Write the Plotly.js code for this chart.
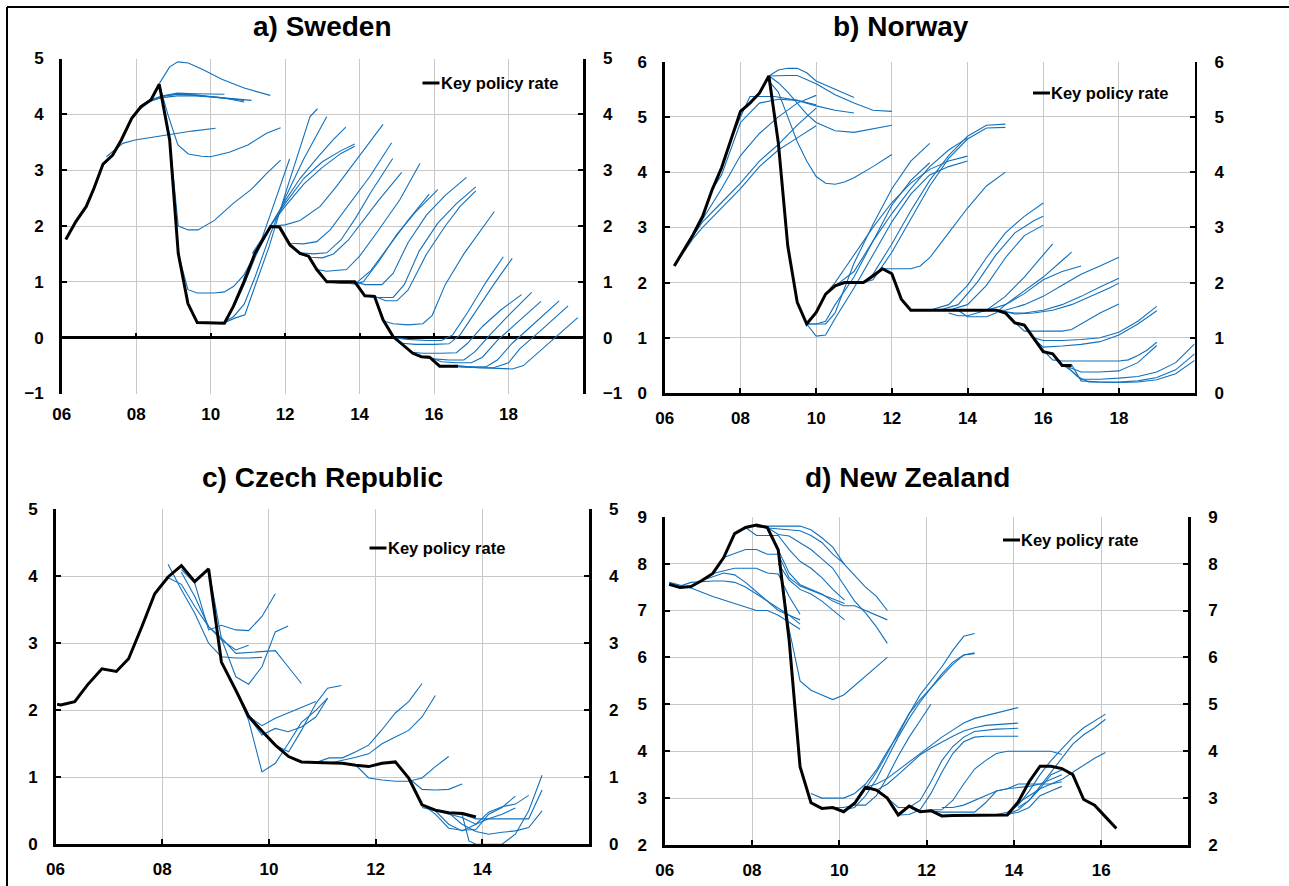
<!DOCTYPE html>
<html>
<head>
<meta charset="utf-8">
<script src="https://cdn.plot.ly/plotly-3.0.1.min.js"></script>
<style>
  html, body { margin: 0; padding: 0; background: #fff; }
  #chart { width: 1289px; height: 886px; }
</style>
</head>
<body>
<div id="chart"></div>
<script>
// ---------------- Policy rates and published forecast paths (per cent) ----------------

// Panel titles and tick labels
const panelTitles = ['a) Sweden', 'b) Norway', 'c) Czech Republic', 'd) New Zealand'];
const legendLabel = 'Key policy rate';
const yearTicksLong = [2006, 2008, 2010, 2012, 2014, 2016, 2018];
const yearTextLong = ['06', '08', '10', '12', '14', '16', '18'];
const yearTicksCz = [2006, 2008, 2010, 2012, 2014];
const yearTextCz = ['06', '08', '10', '12', '14'];
const yearTicksNz = [2006, 2008, 2010, 2012, 2014, 2016];
const yearTextNz = ['06', '08', '10', '12', '14', '16'];

// a) Sweden - repo rate
const seActX = [2006.11, 2006.38, 2006.66, 2006.87, 2007.11, 2007.37, 2007.6, 2007.88, 2008.13, 2008.4, 2008.62, 2008.9,
  2009.13, 2009.39, 2009.64, 2009.99, 2010.37, 2010.61, 2010.92, 2011.19, 2011.4, 2011.61, 2011.85, 2012.13, 2012.4,
  2012.63, 2012.85, 2013.12, 2013.87, 2014.14, 2014.4, 2014.63, 2014.9, 2015.17, 2015.43, 2015.66, 2015.88, 2016.15, 2016.64];
const seActY = [1.76, 2.08, 2.35, 2.68, 3.11, 3.27, 3.54, 3.93, 4.14, 4.26, 4.54, 3.54,
  1.51, 0.61, 0.27, 0.26, 0.26, 0.56, 1.04, 1.51, 1.75, 1.99, 1.98, 1.66, 1.51,
  1.46, 1.22, 1.0, 1.0, 0.75, 0.74, 0.32, 0.02, -0.13, -0.28, -0.34, -0.35, -0.51, -0.51];

// a) Sweden - forecast paths
const seFcX = [
  [2007.2, 2007.45, 2007.64, 2007.97, 2008.5, 2009.0, 2009.5, 2010.13],
  [2007.62, 2007.88, 2008.12, 2008.4, 2008.7, 2009.1, 2009.6, 2010.37],
  [2007.88, 2008.12, 2008.4, 2008.7, 2009.1, 2009.6, 2010.2, 2010.9],
  [2008.12, 2008.4, 2008.7, 2009.1, 2009.6, 2010.3, 2010.9],
  [2008.12, 2008.4, 2008.7, 2009.1, 2009.6, 2010.2, 2011.1],
  [2008.62, 2008.9, 2009.12, 2009.4, 2009.8, 2010.3, 2010.9, 2011.6],
  [2008.62, 2008.85, 2009.12, 2009.4, 2009.75, 2010.0, 2010.5, 2011.0, 2011.5, 2011.88],
  [2008.9, 2009.13, 2009.4, 2009.66, 2010.1, 2010.6, 2011.1, 2011.5, 2011.88],
  [2009.13, 2009.39, 2009.64, 2010.1, 2010.37, 2010.62, 2010.9, 2011.3, 2011.6, 2012.12],
  [2009.87, 2010.37, 2010.65, 2010.92, 2011.19, 2011.57, 2012.01, 2012.39, 2012.67, 2012.87],
  [2010.12, 2010.37, 2010.62, 2010.9, 2011.2, 2011.6, 2012.0, 2012.5, 2013.12],
  [2010.63, 2010.9, 2011.2, 2011.6, 2012.0, 2012.4, 2012.9, 2013.3, 2013.63],
  [2010.88, 2011.2, 2011.6, 2012.0, 2012.5, 2013.0, 2013.5, 2013.87],
  [2011.12, 2011.4, 2011.7, 2012.0, 2012.5, 2013.0, 2013.5, 2013.87],
  [2011.62, 2012.0, 2012.4, 2012.94, 2013.38, 2013.92, 2014.28, 2014.63],
  [2011.88, 2012.13, 2012.49, 2012.85, 2013.21, 2013.75, 2014.28, 2014.86],
  [2012.13, 2012.4, 2012.76, 2013.12, 2013.5, 2013.9, 2014.3, 2014.89],
  [2012.38, 2012.7, 2013.0, 2013.3, 2013.7, 2014.1, 2014.5, 2015.13],
  [2012.85, 2013.12, 2013.65, 2014.0, 2014.45, 2015.08, 2015.62],
  [2013.12, 2013.5, 2013.9, 2014.3, 2014.8, 2015.3, 2015.87],
  [2013.37, 2013.9, 2014.1, 2014.5, 2015.0, 2015.5, 2016.1],
  [2013.87, 2014.14, 2014.6, 2014.9, 2015.3, 2015.8, 2016.3, 2016.87],
  [2014.14, 2014.4, 2014.9, 2015.2, 2015.6, 2016.1, 2016.6, 2017.12],
  [2014.4, 2014.7, 2015.0, 2015.3, 2015.8, 2016.3, 2016.7, 2017.12],
  [2014.63, 2014.9, 2015.3, 2015.7, 2015.95, 2016.3, 2016.8, 2017.62],
  [2014.9, 2015.3, 2015.8, 2016.2, 2016.5, 2016.9, 2017.4, 2017.86],
  [2015.13, 2015.5, 2016.0, 2016.4, 2016.7, 2017.1, 2017.6, 2018.1],
  [2015.4, 2015.7, 2016.2, 2016.6, 2016.9, 2017.3, 2017.8, 2018.35],
  [2015.65, 2016.0, 2016.4, 2016.8, 2017.1, 2017.5, 2018.0, 2018.62],
  [2015.88, 2016.2, 2016.6, 2017.0, 2017.3, 2017.7, 2018.2, 2018.87],
  [2016.15, 2016.6, 2017.0, 2017.4, 2017.7, 2018.1, 2018.6, 2019.36],
  [2016.4, 2016.8, 2017.2, 2017.6, 2018.0, 2018.3, 2018.9, 2019.6],
  [2016.63, 2017.2, 2017.7, 2018.1, 2018.4, 2018.9, 2019.4, 2019.86]
];
const seFcY = [
  [3.24, 3.38, 3.48, 3.54, 3.6, 3.65, 3.7, 3.75],
  [3.55, 3.92, 4.1, 4.25, 4.33, 4.38, 4.37, 4.36],
  [3.93, 4.12, 4.24, 4.32, 4.36, 4.35, 4.3, 4.25],
  [4.14, 4.24, 4.3, 4.33, 4.33, 4.3, 4.22],
  [4.14, 4.26, 4.33, 4.36, 4.34, 4.3, 4.25],
  [4.55, 4.85, 4.94, 4.92, 4.8, 4.63, 4.47, 4.34],
  [4.54, 4.0, 3.45, 3.29, 3.25, 3.24, 3.32, 3.45, 3.66, 3.76],
  [3.54, 2.0, 1.93, 1.93, 2.1, 2.4, 2.66, 2.94, 3.18],
  [1.51, 0.86, 0.8, 0.8, 0.82, 0.92, 1.13, 1.63, 2.2, 3.2],
  [0.26, 0.27, 0.35, 0.41, 0.92, 1.63, 2.59, 3.36, 3.96, 4.1],
  [0.26, 0.28, 0.38, 0.6, 1.1, 1.85, 2.5, 3.2, 3.96],
  [0.56, 0.95, 1.45, 2.0, 2.45, 2.85, 3.25, 3.55, 3.77],
  [1.04, 1.5, 2.0, 2.35, 2.75, 3.05, 3.3, 3.43],
  [1.51, 1.8, 2.1, 2.4, 2.85, 3.15, 3.35, 3.47],
  [2.0, 2.02, 2.1, 2.35, 2.71, 3.19, 3.49, 3.82],
  [1.98, 1.69, 1.68, 1.72, 1.93, 2.41, 2.89, 3.49],
  [1.66, 1.52, 1.5, 1.52, 1.75, 2.15, 2.6, 3.21],
  [1.5, 1.44, 1.43, 1.5, 1.75, 2.1, 2.45, 2.96],
  [1.22, 1.19, 1.22, 1.46, 1.87, 2.47, 3.12],
  [1.0, 0.97, 0.97, 1.2, 1.65, 2.1, 2.57],
  [1.0, 0.96, 1.0, 1.35, 1.85, 2.25, 2.65],
  [1.0, 0.95, 0.95, 1.15, 1.7, 2.2, 2.55, 2.87],
  [0.75, 0.72, 0.72, 0.95, 1.55, 2.05, 2.4, 2.7],
  [0.74, 0.66, 0.66, 0.85, 1.5, 2.0, 2.35, 2.63],
  [0.3, 0.25, 0.23, 0.25, 0.4, 0.95, 1.5, 2.26],
  [0.0, -0.03, -0.05, -0.05, 0.05, 0.45, 1.0, 1.45],
  [-0.1, -0.12, -0.12, -0.11, 0.05, 0.45, 0.95, 1.42],
  [-0.26, -0.28, -0.28, -0.27, -0.1, 0.2, 0.5, 0.77],
  [-0.35, -0.38, -0.4, -0.4, -0.25, 0.05, 0.4, 0.81],
  [-0.35, -0.43, -0.45, -0.45, -0.35, -0.05, 0.25, 0.65],
  [-0.5, -0.52, -0.52, -0.52, -0.4, -0.1, 0.2, 0.66],
  [-0.5, -0.53, -0.54, -0.54, -0.45, -0.2, 0.15, 0.57],
  [-0.5, -0.54, -0.55, -0.56, -0.5, -0.2, 0.1, 0.36]
];

// b) Norway - key policy rate
const noActX = [2006.25, 2006.5, 2006.75, 2007.0, 2007.25, 2007.5, 2007.75, 2008.0, 2008.25, 2008.5, 2008.75, 2009.0,
  2009.25, 2009.5, 2009.75, 2010.0, 2010.25, 2010.5, 2010.75, 2011.0, 2011.25, 2011.5, 2011.75, 2012.0, 2012.25,
  2012.5, 2012.75, 2013.0, 2013.25, 2013.5, 2013.75, 2014.0, 2014.25, 2014.5, 2014.75, 2015.0, 2015.25, 2015.5,
  2015.75, 2016.0, 2016.25, 2016.5, 2016.75];
const noActY = [2.3, 2.58, 2.87, 3.2, 3.68, 4.08, 4.59, 5.1, 5.25, 5.43, 5.74, 4.53,
  2.66, 1.64, 1.25, 1.46, 1.79, 1.94, 2.0, 2.0, 2.0, 2.12, 2.25, 2.16, 1.7,
  1.5, 1.5, 1.5, 1.5, 1.5, 1.5, 1.5, 1.5, 1.5, 1.5, 1.45, 1.27, 1.23,
  0.98, 0.75, 0.71, 0.5, 0.5];

// b) Norway - forecast paths
const noFcX = [
  [2006.35, 2006.75, 2007.0, 2007.5, 2008.0, 2008.5, 2009.0, 2009.5, 2010.0],
  [2006.5, 2006.75, 2007.0, 2007.5, 2008.0, 2008.5, 2009.0, 2009.5, 2010.0],
  [2006.75, 2007.0, 2007.5, 2008.0, 2008.5, 2009.0, 2009.5, 2010.0],
  [2007.25, 2007.5, 2008.0, 2008.5, 2009.0, 2009.5, 2010.0, 2010.5, 2011.0],
  [2007.75, 2008.0, 2008.25, 2008.5, 2008.9, 2009.5, 2010.0],
  [2008.75, 2009.0, 2009.25, 2009.5, 2009.75, 2010.0, 2010.5, 2011.0, 2011.5, 2012.0],
  [2008.75, 2009.0, 2009.25, 2009.5, 2009.75, 2010.0, 2010.5, 2011.0],
  [2008.75, 2009.0, 2009.25, 2009.5, 2009.75, 2010.0, 2010.5, 2011.0, 2011.5, 2012.0],
  [2008.75, 2009.0, 2009.25, 2009.5, 2009.75, 2010.0, 2010.25, 2010.5, 2010.75, 2011.0, 2011.5, 2012.0],
  [2009.75, 2010.25, 2010.5, 2010.75, 2011.0, 2011.5, 2012.0, 2012.5, 2013.0],
  [2009.75, 2010.0, 2010.25, 2010.5, 2011.0, 2011.5, 2012.0, 2012.5, 2013.0],
  [2009.75, 2010.0, 2010.25, 2010.5, 2011.0, 2011.5, 2012.0, 2012.5, 2013.0, 2013.5, 2014.0],
  [2010.25, 2010.5, 2010.75, 2011.0, 2011.5, 2012.0, 2012.5, 2013.0, 2013.5, 2014.0],
  [2010.5, 2011.0, 2011.5, 2012.0, 2012.5, 2013.0, 2013.5, 2014.0],
  [2011.25, 2011.5, 2012.0, 2012.5, 2013.0, 2013.5, 2014.0, 2014.5, 2015.0],
  [2011.25, 2011.5, 2012.0, 2012.5, 2013.0, 2013.5, 2014.0, 2014.5, 2015.0],
  [2011.75, 2012.0, 2012.5, 2012.75, 2013.0, 2013.5, 2014.0, 2014.5, 2015.0],
  [2013.0, 2013.5, 2014.0, 2014.5, 2015.0, 2015.5, 2016.0],
  [2013.25, 2013.75, 2014.25, 2014.75, 2015.25, 2015.75, 2016.0],
  [2013.5, 2014.0, 2014.5, 2015.0, 2015.5, 2016.0],
  [2013.5, 2013.75, 2014.0, 2014.5, 2015.0, 2015.5, 2016.0, 2016.25],
  [2013.75, 2014.0, 2014.5, 2014.75, 2015.0, 2015.5, 2016.0, 2016.5, 2016.75],
  [2014.25, 2014.5, 2014.75, 2015.0, 2015.5, 2016.0, 2016.5, 2017.0],
  [2014.75, 2015.0, 2015.5, 2016.0, 2016.5, 2017.0, 2017.5, 2018.0],
  [2015.0, 2015.25, 2015.5, 2016.0, 2016.5, 2017.0, 2017.5, 2018.0],
  [2015.0, 2015.25, 2015.75, 2016.25, 2016.75, 2017.25, 2017.75, 2018.0],
  [2015.25, 2015.5, 2016.0, 2016.5, 2016.75, 2017.0, 2017.5, 2018.0],
  [2015.5, 2015.75, 2016.0, 2016.5, 2017.0, 2017.5, 2018.0, 2018.5, 2019.0],
  [2015.75, 2016.0, 2016.5, 2017.0, 2017.5, 2018.0, 2018.5, 2019.0],
  [2016.0, 2016.25, 2016.5, 2017.0, 2017.5, 2018.0, 2018.25, 2018.5, 2018.75, 2019.0],
  [2016.25, 2016.5, 2016.75, 2017.0, 2017.5, 2018.0, 2018.5, 2019.0],
  [2016.5, 2016.75, 2017.0, 2017.5, 2018.0, 2018.5, 2019.0, 2019.5, 2020.0],
  [2016.75, 2017.0, 2017.5, 2018.0, 2018.5, 2019.0, 2019.5, 2020.0],
  [2016.6, 2016.9, 2017.2, 2017.6, 2018.0, 2018.5, 2019.0, 2019.5, 2020.0]
];
const noFcY = [
  [2.4, 2.8, 3.0, 3.35, 3.7, 4.1, 4.4, 4.62, 4.84],
  [2.6, 2.85, 3.1, 3.45, 3.8, 4.2, 4.5, 4.85, 5.16],
  [2.87, 3.15, 3.7, 4.3, 4.7, 5.0, 5.25, 5.39],
  [3.68, 3.95, 4.9, 5.25, 5.32, 5.3, 5.2, 5.12, 5.07],
  [4.59, 5.0, 5.37, 5.37, 5.37, 5.3, 5.22],
  [5.74, 5.75, 5.75, 5.75, 5.68, 5.6, 5.4, 5.25, 5.12, 5.1],
  [5.74, 5.85, 5.88, 5.88, 5.8, 5.65, 5.5, 5.35],
  [5.74, 5.62, 5.45, 5.25, 5.05, 4.9, 4.75, 4.72, 4.78, 4.85],
  [5.65, 5.45, 5.0, 4.55, 4.2, 3.92, 3.8, 3.78, 3.82, 3.9, 4.1, 4.32],
  [1.25, 1.25, 1.45, 1.9, 2.35, 3.05, 3.7, 4.2, 4.52],
  [1.25, 1.25, 1.3, 1.6, 2.1, 2.75, 3.4, 3.85, 4.17],
  [1.25, 1.03, 1.05, 1.35, 1.9, 2.5, 3.1, 3.6, 3.95, 4.1, 4.2],
  [1.79, 2.0, 2.25, 2.5, 3.0, 3.45, 3.8, 4.05, 4.2, 4.29],
  [1.94, 2.2, 2.75, 3.25, 3.7, 4.1, 4.4, 4.62],
  [2.0, 2.15, 2.7, 3.3, 3.85, 4.3, 4.65, 4.85, 4.87],
  [2.0, 2.05, 2.55, 3.15, 3.75, 4.25, 4.6, 4.8, 4.81],
  [2.25, 2.25, 2.25, 2.3, 2.45, 2.9, 3.35, 3.75, 4.0],
  [1.5, 1.6, 1.95, 2.45, 2.9, 3.2, 3.44],
  [1.5, 1.6, 2.0, 2.5, 2.9, 3.12, 3.2],
  [1.5, 1.6, 1.95, 2.45, 2.85, 3.04],
  [1.45, 1.4, 1.4, 1.5, 1.75, 2.1, 2.5, 2.7],
  [1.5, 1.38, 1.38, 1.45, 1.6, 1.85, 2.1, 2.4, 2.55],
  [1.5, 1.5, 1.55, 1.6, 1.8, 2.05, 2.2, 2.3],
  [1.5, 1.5, 1.6, 1.75, 1.95, 2.15, 2.3, 2.46],
  [1.47, 1.45, 1.45, 1.5, 1.6, 1.75, 1.92, 2.08],
  [1.47, 1.43, 1.45, 1.5, 1.6, 1.75, 1.9, 1.99],
  [1.28, 1.12, 1.12, 1.12, 1.15, 1.25, 1.45, 1.61],
  [1.23, 1.0, 0.95, 0.95, 0.97, 1.0, 1.1, 1.3, 1.57],
  [0.98, 0.83, 0.85, 0.88, 0.93, 1.05, 1.25, 1.49],
  [0.77, 0.6, 0.58, 0.58, 0.58, 0.58, 0.6, 0.68, 0.78, 0.92],
  [0.72, 0.5, 0.45, 0.38, 0.38, 0.4, 0.55, 0.86],
  [0.51, 0.4, 0.25, 0.25, 0.27, 0.3, 0.38, 0.55, 0.89],
  [0.51, 0.22, 0.2, 0.2, 0.22, 0.28, 0.42, 0.71],
  [0.5, 0.3, 0.2, 0.19, 0.19, 0.2, 0.24, 0.35, 0.59]
];

// c) Czech Republic - 2W repo rate
const czActX = [2006.03, 2006.1, 2006.36, 2006.6, 2006.87, 2007.14, 2007.37, 2007.62, 2007.86, 2008.11, 2008.36, 2008.61,
  2008.87, 2009.11, 2009.38, 2009.62, 2009.87, 2010.12, 2010.37, 2010.61, 2010.88, 2011.13, 2011.38, 2011.63,
  2011.87, 2012.12, 2012.37, 2012.62, 2012.87, 2013.12, 2013.37, 2013.63, 2013.88];
const czActY = [2.09, 2.08, 2.13, 2.38, 2.62, 2.58, 2.77, 3.25, 3.74, 3.99, 4.16, 3.92,
  4.11, 2.72, 2.3, 1.91, 1.69, 1.48, 1.31, 1.23, 1.22, 1.21, 1.21, 1.18,
  1.16, 1.21, 1.23, 0.99, 0.59, 0.51, 0.47, 0.46, 0.41];

// c) Czech Republic - forecast paths
const czFcX = [
  [2008.11, 2008.36, 2008.61, 2008.87, 2009.11, 2009.38, 2009.62, 2009.87],
  [2008.11, 2008.36, 2008.61, 2008.87, 2009.11, 2009.38, 2009.62],
  [2008.36, 2008.61, 2008.87, 2009.11, 2009.38, 2009.62, 2009.87, 2010.12, 2010.36, 2010.61],
  [2008.36, 2008.61, 2008.87, 2009.11, 2009.38, 2009.62, 2009.87, 2010.12],
  [2008.87, 2009.11, 2009.38, 2009.62, 2009.87, 2010.12, 2010.36],
  [2009.38, 2009.62, 2009.87, 2010.12, 2010.36, 2010.61, 2010.88, 2011.1],
  [2009.38, 2009.62, 2009.87, 2010.12, 2010.36, 2010.61, 2010.88, 2011.1],
  [2009.62, 2009.87, 2010.12, 2010.36, 2010.61, 2010.88],
  [2010.12, 2010.37, 2010.61, 2010.88, 2011.1, 2011.36],
  [2010.88, 2011.13, 2011.38, 2011.63, 2011.87, 2012.12, 2012.37, 2012.62, 2012.87],
  [2011.13, 2011.38, 2011.63, 2011.87, 2012.12, 2012.37, 2012.62, 2012.87, 2013.12],
  [2011.63, 2011.87, 2012.12, 2012.37, 2012.62, 2012.87, 2013.12, 2013.37],
  [2012.62, 2012.87, 2013.12, 2013.37, 2013.62],
  [2012.87, 2013.12, 2013.37, 2013.62, 2013.88, 2014.12, 2014.37, 2014.62],
  [2012.87, 2013.12, 2013.37, 2013.62, 2013.88, 2014.12, 2014.37, 2014.62, 2014.87],
  [2013.12, 2013.37, 2013.62, 2013.88, 2014.12, 2014.37, 2014.62],
  [2013.37, 2013.62, 2013.88, 2014.12, 2014.37, 2014.62, 2014.87, 2015.12],
  [2013.62, 2013.88, 2014.12, 2014.37, 2014.62, 2014.87, 2015.12],
  [2013.62, 2013.75, 2013.88, 2014.12, 2014.37, 2014.62, 2014.87, 2015.12]
];
const czFcY = [
  [4.18, 3.8, 3.45, 3.0, 2.8, 2.78, 2.78, 2.79],
  [3.98, 3.88, 3.55, 3.25, 3.05, 2.9, 2.97],
  [4.06, 3.7, 3.25, 3.08, 2.85, 2.86, 2.87, 2.89, 2.65, 2.4],
  [4.1, 3.9, 3.2, 3.27, 3.2, 3.19, 3.4, 3.74],
  [4.11, 3.07, 2.5, 2.39, 2.65, 3.17, 3.26],
  [2.3, 1.85, 1.08, 1.21, 1.5, 1.82, 2.0, 2.18],
  [2.3, 1.9, 1.63, 1.73, 1.68, 1.75, 1.9, 2.18],
  [1.91, 1.77, 1.88, 1.96, 2.05, 2.13],
  [1.48, 1.38, 1.7, 2.1, 2.33, 2.37],
  [1.22, 1.29, 1.29, 1.38, 1.48, 1.71, 1.96, 2.13, 2.4],
  [1.21, 1.25, 1.3, 1.35, 1.5, 1.6, 1.7, 1.9, 2.22],
  [1.18, 0.99, 0.96, 0.94, 0.94, 0.99, 1.16, 1.31],
  [0.99, 0.82, 0.81, 0.82, 0.9],
  [0.6, 0.45, 0.24, 0.21, 0.22, 0.45, 0.55, 0.72],
  [0.55, 0.5, 0.3, 0.2, 0.3, 0.48, 0.56, 0.6, 0.73],
  [0.5, 0.45, 0.4, 0.3, 0.38, 0.45, 0.54],
  [0.47, 0.3, 0.19, 0.15, 0.18, 0.2, 0.25, 0.5],
  [0.45, 0.38, 0.38, 0.38, 0.38, 0.38, 0.81],
  [0.45, 0.05, 0.0, 0.0, 0.0, 0.15, 0.5, 1.03]
];

// d) New Zealand - official cash rate
const nzActX = [2006.1, 2006.35, 2006.6, 2006.85, 2007.1, 2007.35, 2007.6, 2007.85, 2008.1, 2008.35, 2008.6, 2008.85,
  2009.1, 2009.35, 2009.6, 2009.85, 2010.1, 2010.35, 2010.6, 2010.85, 2011.1, 2011.35, 2011.6, 2011.85,
  2012.1, 2012.35, 2012.6, 2012.85, 2013.1, 2013.35, 2013.6, 2013.85, 2014.1, 2014.35, 2014.6, 2014.85,
  2015.1, 2015.35, 2015.6, 2015.85, 2016.1, 2016.35];
const nzActY = [7.56, 7.49, 7.51, 7.64, 7.79, 8.13, 8.64, 8.77, 8.82, 8.77, 8.29, 6.37,
  3.67, 2.9, 2.78, 2.8, 2.71, 2.89, 3.23, 3.17, 3.0, 2.64, 2.83, 2.71,
  2.73, 2.62, 2.63, 2.63, 2.63, 2.63, 2.63, 2.64, 2.92, 3.35, 3.68, 3.68,
  3.63, 3.5, 2.97, 2.85, 2.6, 2.35];

// d) New Zealand - forecast paths
const nzFcX = [
  [2006.1, 2006.6, 2007.1, 2007.6, 2008.1, 2008.35, 2008.6, 2008.85, 2009.1],
  [2006.35, 2006.6, 2007.1, 2007.35, 2007.6, 2007.85, 2008.1, 2008.35, 2008.6, 2008.85, 2009.1],
  [2006.85, 2007.1, 2007.35, 2007.6, 2007.85, 2008.1, 2008.35, 2008.6, 2008.85, 2009.1],
  [2007.1, 2007.35, 2007.6, 2007.85, 2008.1, 2008.35, 2008.6, 2008.85, 2009.1],
  [2007.35, 2007.6, 2007.85, 2008.1, 2008.35, 2008.6, 2008.85, 2009.1, 2009.35, 2009.6, 2009.85, 2010.12],
  [2008.1, 2008.35, 2008.6, 2008.85, 2009.1, 2009.35, 2009.6, 2009.85, 2010.1, 2010.35, 2010.6, 2010.85, 2011.1],
  [2008.1, 2008.35, 2008.6, 2008.85, 2009.1, 2009.35, 2009.6, 2009.85, 2010.12],
  [2008.35, 2008.6, 2008.85, 2009.1, 2009.35, 2009.6, 2009.85, 2010.1, 2010.35, 2010.6, 2010.85, 2011.1],
  [2007.85, 2008.1, 2008.35, 2008.6, 2008.85, 2009.1, 2009.35, 2009.6, 2009.85, 2010.12],
  [2008.6, 2008.85, 2009.1, 2009.35, 2009.6, 2009.85, 2010.1, 2010.35, 2010.6, 2010.85, 2011.1],
  [2008.6, 2008.85, 2009.1, 2009.35, 2009.6, 2009.85, 2010.12],
  [2008.6, 2008.85, 2009.1, 2009.35, 2009.6, 2009.85, 2010.1, 2010.35, 2010.6, 2010.85, 2011.1],
  [2009.35, 2009.6, 2009.85, 2010.1, 2010.35, 2010.6, 2010.85, 2011.1, 2011.35, 2011.6, 2011.85, 2012.1, 2012.35, 2012.6, 2012.85, 2013.1],
  [2009.85, 2010.1, 2010.35, 2010.6, 2010.85, 2011.1, 2011.35, 2011.6, 2011.85, 2012.1, 2012.35, 2012.6, 2012.85, 2013.1],
  [2010.1, 2010.35, 2010.6, 2010.85, 2011.1, 2011.35, 2011.6, 2011.85, 2012.1, 2012.35, 2012.6, 2012.85, 2013.1],
  [2010.35, 2010.6, 2010.85, 2011.1, 2011.35, 2011.6, 2011.85, 2012.1],
  [2010.6, 2010.85, 2011.1, 2011.35, 2011.6, 2011.85, 2012.1, 2012.35, 2012.6, 2012.85, 2013.1, 2013.35, 2013.6, 2013.85, 2014.1],
  [2010.85, 2011.1, 2011.35, 2011.6, 2011.85, 2012.1, 2012.35, 2012.6, 2012.85, 2013.1, 2013.35, 2013.6, 2013.85, 2014.1],
  [2011.1, 2011.35, 2011.6, 2011.85, 2012.1, 2012.35, 2012.6, 2012.85, 2013.1, 2013.35, 2013.6, 2013.85, 2014.1],
  [2011.35, 2011.6, 2011.85, 2012.1, 2012.35, 2012.6, 2012.85, 2013.1, 2013.35, 2013.6, 2013.85, 2014.1],
  [2011.85, 2012.1, 2012.35, 2012.6, 2012.85, 2013.1, 2013.35, 2013.6, 2013.85, 2014.1, 2014.35, 2014.6, 2014.85, 2015.1],
  [2012.1, 2012.35, 2012.6, 2012.85, 2013.1, 2013.35, 2013.6, 2013.85, 2014.1, 2014.35, 2014.6, 2014.85, 2015.1],
  [2012.35, 2012.6, 2012.85, 2013.1, 2013.35, 2013.6, 2013.85, 2014.1, 2014.35, 2014.6, 2014.85, 2015.1],
  [2013.6, 2013.85, 2014.1, 2014.35, 2014.6, 2014.85, 2015.1, 2015.35, 2015.6, 2015.85, 2016.1],
  [2013.85, 2014.1, 2014.35, 2014.6, 2014.85, 2015.1, 2015.35, 2015.6, 2015.85, 2016.1],
  [2014.1, 2014.35, 2014.6, 2014.85, 2015.1, 2015.35, 2015.6, 2015.85, 2016.1],
  [2013.85, 2014.1, 2014.35, 2014.6, 2014.85, 2015.1],
  [2014.1, 2014.35, 2014.6, 2014.85, 2015.1]
];
const nzFcY = [
  [7.6, 7.48, 7.3, 7.15, 7.0, 7.0, 6.9, 6.75, 6.6],
  [7.52, 7.6, 7.63, 7.63, 7.6, 7.5, 7.35, 7.2, 7.05, 6.9, 6.71],
  [7.64, 7.72, 7.8, 7.76, 7.6, 7.4, 7.2, 7.0, 6.9, 6.8],
  [7.79, 7.85, 7.9, 7.9, 7.9, 7.8, 7.78, 7.3, 6.92],
  [8.13, 8.22, 8.3, 8.3, 8.2, 8.2, 7.7, 7.52, 7.43, 7.35, 7.25, 7.15],
  [8.8, 8.8, 8.8, 8.8, 8.8, 8.72, 8.55, 8.35, 8.0, 7.75, 7.5, 7.3, 7.0],
  [8.78, 8.76, 8.75, 8.73, 8.7, 8.6, 8.45, 8.2, 7.99],
  [8.77, 8.62, 8.59, 8.45, 8.3, 8.1, 7.9, 7.55, 7.2, 6.95, 6.65, 6.3],
  [8.77, 8.6, 8.6, 8.6, 8.3, 8.05, 7.9, 7.7, 7.45, 7.22],
  [8.29, 7.8, 7.55, 7.45, 7.35, 7.2, 7.1, 7.1, 7.0, 6.9, 6.8],
  [8.0, 7.65, 7.45, 7.35, 7.2, 7.0, 6.8],
  [8.29, 6.6, 5.5, 5.3, 5.2, 5.1, 5.2, 5.4, 5.6, 5.8, 6.0],
  [3.1, 3.0, 3.0, 3.0, 3.1, 3.3, 3.6, 4.0, 4.35, 4.8, 5.2, 5.5, 5.8, 6.15, 6.45, 6.51],
  [2.8, 2.8, 2.85, 3.2, 3.55, 3.95, 4.4, 4.8, 5.1, 5.35, 5.6, 5.85, 6.05, 6.1],
  [2.75, 2.8, 3.05, 3.4, 3.85, 4.3, 4.7, 5.05, 5.35, 5.65, 5.9, 6.05, 6.08],
  [2.85, 2.85, 3.05, 3.45, 3.9, 4.3, 4.65, 5.0],
  [3.23, 3.3, 3.42, 3.6, 3.78, 3.96, 4.13, 4.3, 4.45, 4.6, 4.7, 4.76, 4.82, 4.87, 4.93],
  [3.17, 3.3, 3.5, 3.72, 3.92, 4.07, 4.2, 4.32, 4.43, 4.5, 4.55, 4.57, 4.58, 4.6],
  [3.0, 2.8, 2.8, 2.95, 3.35, 3.8, 4.1, 4.3, 4.42, 4.45, 4.47, 4.48, 4.49],
  [2.64, 2.65, 2.75, 3.1, 3.55, 3.95, 4.2, 4.3, 4.32, 4.32, 4.32, 4.32],
  [2.71, 2.75, 2.75, 2.95, 3.3, 3.62, 3.8, 3.95, 4.0, 4.0, 4.0, 4.0, 4.0, 3.93],
  [2.73, 2.7, 2.7, 2.7, 2.7, 2.9, 3.15, 3.2, 3.3, 3.3, 3.3, 3.3, 3.35],
  [2.8, 2.8, 2.85, 2.95, 3.05, 3.15, 3.2, 3.22, 3.25, 3.3, 3.4, 3.5],
  [2.65, 2.7, 2.85, 3.15, 3.5, 3.8, 4.05, 4.3, 4.5, 4.65, 4.79],
  [2.65, 2.75, 2.95, 3.25, 3.55, 3.85, 4.15, 4.35, 4.5, 4.68],
  [2.9, 3.05, 3.2, 3.3, 3.4, 3.55, 3.7, 3.85, 3.97],
  [2.65, 2.7, 2.8, 3.05, 3.15, 3.25],
  [2.8, 2.95, 3.2, 3.5, 3.6]
];

// ---------------- Figure construction ----------------
const W = 1289, H = 886;
const FONT = 'Liberation Sans, Arial, Helvetica, sans-serif';
const BLUE = '#1271bd';
const GRID = '#c8c8c8';
const tickFont = { family: FONT, size: 17, color: '#000', weight: 'bold' };
const px = v => v / W;            // pixel column -> paper x
const py = v => 1 - v / H;        // pixel row -> paper y

// Plot-area boxes in pixels: [left, right, top, bottom]
const boxes = [
  [61.7, 583, 58.5, 393.5],
  [664.8, 1194.6, 61.7, 393],
  [55.5, 589, 509.3, 844.3],
  [664.8, 1188.4, 516.7, 845]
];

const panels = [
  { fx: seFcX, fy: seFcY, ax: seActX, ay: seActY, xr: [2006, 2020], yr: [-1, 5], tv: yearTicksLong, tt: yearTextLong, zero: true },
  { fx: noFcX, fy: noFcY, ax: noActX, ay: noActY, xr: [2006, 2020], yr: [0, 6], tv: yearTicksLong, tt: yearTextLong, zero: false },
  { fx: czFcX, fy: czFcY, ax: czActX, ay: czActY, xr: [2006, 2016], yr: [0, 5], tv: yearTicksCz, tt: yearTextCz, zero: false },
  { fx: nzFcX, fy: nzFcY, ax: nzActX, ay: nzActY, xr: [2006, 2018], yr: [2, 9], tv: yearTicksNz, tt: yearTextNz, zero: false }
];

// Title centres and legend anchors, pixels
const titlePos = [[322, 27], [901, 27], [322, 477], [907, 477]];
const legendPos = [[422.5, 83], [1033, 93], [369.5, 548], [1003, 540]];

const traces = [];
const layout = {
  width: W, height: H,
  margin: { l: 0, r: 0, t: 0, b: 0 },
  paper_bgcolor: '#fff', plot_bgcolor: '#fff',
  showlegend: false,
  hovermode: false,
  annotations: [],
  shapes: []
};

panels.forEach((p, i) => {
  const n = i + 1;
  const xa = n === 1 ? 'x' : 'x' + n;
  const ya = n === 1 ? 'y' : 'y' + n;
  const yr2 = 'y' + (n + 4);
  const [l, r, t, b] = boxes[i];

  // forecast paths
  p.fx.forEach((xs, k) => {
    traces.push({
      type: 'scatter', mode: 'lines', x: xs, y: p.fy[k],
      xaxis: xa, yaxis: ya,
      line: { color: BLUE, width: 1.1 },
      showlegend: false, hoverinfo: 'skip'
    });
  });
  // realised policy rate
  traces.push({
    type: 'scatter', mode: 'lines', x: p.ax, y: p.ay,
    xaxis: xa, yaxis: ya, name: legendLabel,
    line: { color: '#000', width: 3 },
    showlegend: false, hoverinfo: 'skip'
  });
  // carrier for the right-hand value axis
  traces.push({ type: 'scatter', mode: 'lines', x: [], y: [], xaxis: xa, yaxis: yr2, showlegend: false, hoverinfo: 'skip' });

  const xKey = n === 1 ? 'xaxis' : 'xaxis' + n;
  const yKey = n === 1 ? 'yaxis' : 'yaxis' + n;
  layout[xKey] = {
    domain: [px(l), px(r)], range: p.xr, anchor: ya,
    tickmode: 'array', tickvals: p.tv, ticktext: p.tt,
    showgrid: true, gridcolor: GRID, gridwidth: 1, zeroline: false,
    showline: !p.zero, linecolor: '#000', linewidth: 2.5,
    ticks: p.zero ? '' : 'inside', ticklen: 5, tickwidth: 2, tickcolor: '#000',
    tickfont: tickFont, ticklabelstandoff: 8, fixedrange: true
  };
  layout[yKey] = {
    domain: [py(b), py(t)], range: p.yr, anchor: xa,
    tickmode: 'linear', tick0: p.yr[0], dtick: 1,
    showgrid: true, gridcolor: GRID, gridwidth: 1,
    zeroline: p.zero, zerolinecolor: '#000', zerolinewidth: 2.5,
    showline: true, linecolor: '#000', linewidth: 2.5,
    ticks: 'inside', ticklen: 5, tickwidth: 2, tickcolor: '#000',
    tickfont: tickFont, ticklabelstandoff: 12, fixedrange: true
  };
  layout['yaxis' + (n + 4)] = {
    overlaying: ya, side: 'right', anchor: xa, range: p.yr,
    tickmode: 'linear', tick0: p.yr[0], dtick: 1,
    showgrid: false, zeroline: false,
    showline: true, linecolor: '#000', linewidth: 2.5,
    ticks: 'inside', ticklen: 5, tickwidth: 2, tickcolor: '#000',
    tickfont: tickFont, ticklabelstandoff: 14, fixedrange: true
  };

  // panel title
  layout.annotations.push({
    xref: 'paper', yref: 'paper', x: px(titlePos[i][0]), y: py(titlePos[i][1]),
    xanchor: 'center', yanchor: 'middle', showarrow: false,
    text: panelTitles[i], font: { family: FONT, size: 28, color: '#000', weight: 'bold' }
  });
  // legend entry
  const [lx, ly] = legendPos[i];
  layout.shapes.push({
    type: 'line', xref: 'paper', yref: 'paper',
    x0: px(lx), x1: px(lx + 17), y0: py(ly), y1: py(ly),
    line: { color: '#000', width: 3 }
  });
  layout.annotations.push({
    xref: 'paper', yref: 'paper', x: px(lx + 16), y: py(ly),
    xanchor: 'left', yanchor: 'middle', showarrow: false,
    text: legendLabel, font: { family: FONT, size: 16.5, color: '#000', weight: 'bold' }
  });
});

// Sweden: year ticks sit on the zero line (axis crosses at 0)
const seZeroPix = 58.5 + (393.5 - 58.5) * (5 / 6);
layout.xaxis9 = {
  overlaying: 'x', anchor: 'free', position: py(seZeroPix), side: 'bottom',
  range: [2006, 2020], tickmode: 'array', tickvals: yearTicksLong,
  showticklabels: false, showgrid: false, zeroline: false, showline: false,
  ticks: 'inside', ticklen: 5, tickwidth: 2, tickcolor: '#000', fixedrange: true
};
traces.push({ type: 'scatter', mode: 'lines', x: [], y: [], xaxis: 'x9', yaxis: 'y', showlegend: false, hoverinfo: 'skip' });

// outer frame (top and left edges)
layout.shapes.push(
  { type: 'line', xref: 'paper', yref: 'paper', x0: px(7), x1: 1, y0: py(7), y1: py(7), line: { color: '#000', width: 2 } },
  { type: 'line', xref: 'paper', yref: 'paper', x0: px(7), x1: px(7), y0: py(7), y1: 0, line: { color: '#000', width: 2 } }
);

Plotly.newPlot('chart', traces, layout, { staticPlot: true, displayModeBar: false });
</script>
</body>
</html>
